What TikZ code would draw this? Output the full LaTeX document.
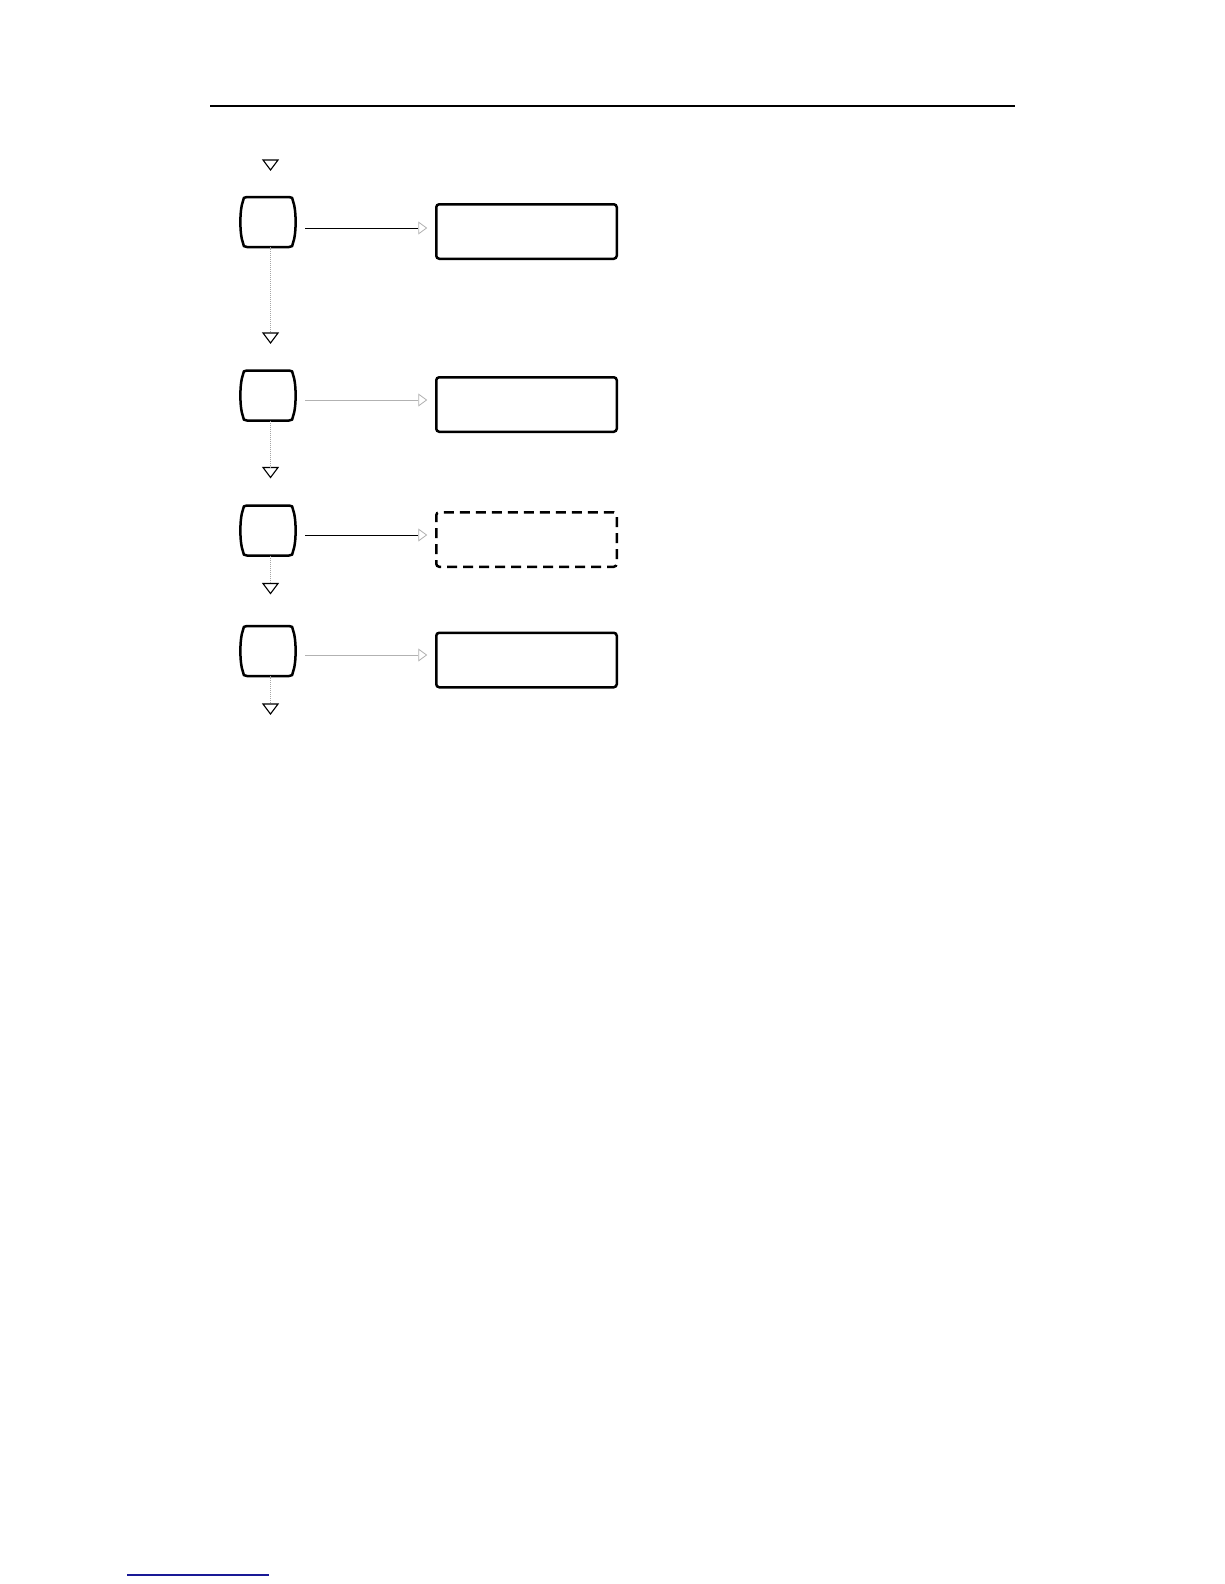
\documentclass[tikz,border=0pt]{standalone}
\usetikzlibrary{calc,arrows.meta}
\begin{document}
\begin{tikzpicture}[x=1pt,y=-1pt,
  smallbox/.style={draw=none, minimum width=50pt, minimum height=50pt, inner sep=0pt, outer sep=0pt},
  bigbox/.style={draw, line width=2.5pt, rounded corners=3pt, minimum width=180.5pt, minimum height=54.5pt, inner sep=0pt, outer sep=0pt},
  dashedbox/.style={bigbox, dash pattern=on 10pt off 6pt},
  barrelline/.style={line width=2.5pt, line join=round},
  dotline/.style={gray!70, line width=0.9pt, dash pattern=on 1pt off 1pt},
  tri/.style={line width=1.1pt, line join=miter},
  conn/.style={line width=0.9pt, -{Triangle[open,length=9pt,width=13pt,line width=0.8pt,color=gray!60]}, shorten <=12pt, shorten >=9pt},
  darkconn/.style={conn, black},
  lightconn/.style={conn, gray!60}
]
\useasboundingbox (0,0) rectangle (1224,1584);
\fill[white] (0,0) rectangle (1224,1584);

% header rule and footer link line
\coordinate (hl) at (210,106);
\coordinate (hr) at (1015,106);
\draw[line width=2pt] (hl) -- (hr);
\coordinate (fl) at (127,1575);
\coordinate (fr) at (269,1575);
\draw[line width=1.5pt, color={rgb,255:red,25;green,25;blue,150}] (fl) -- (fr);

% small barrel boxes
\node[smallbox] (s1) at (268,222) {};
\node[smallbox] (s2) at (268,395.5) {};
\node[smallbox] (s3) at (268,530.5) {};
\node[smallbox] (s4) at (268,651) {};

\foreach \s in {s1,s2,s3,s4}{
  \draw[barrelline]
    ($(\s.north west)+(4,0)$) -- ($(\s.north east)+(-4,0)$)
    .. controls ($(\s.north east)+(-1,0)$) and ($(\s.north east)+(0,1)$) .. ($(\s.north east)+(0,4)$)
    .. controls ($(\s.east)+(3.5,-12)$) and ($(\s.east)+(3.5,12)$) .. ($(\s.south east)+(0,-4)$)
    .. controls ($(\s.south east)+(0,-1)$) and ($(\s.south east)+(-1,0)$) .. ($(\s.south east)+(-4,0)$)
    -- ($(\s.south west)+(4,0)$)
    .. controls ($(\s.south west)+(1,0)$) and ($(\s.south west)+(0,-1)$) .. ($(\s.south west)+(0,-4)$)
    .. controls ($(\s.west)+(-3.5,12)$) and ($(\s.west)+(-3.5,-12)$) .. ($(\s.north west)+(0,4)$)
    .. controls ($(\s.north west)+(0,1)$) and ($(\s.north west)+(1,0)$) .. ($(\s.north west)+(4,0)$)
    -- cycle;
}

% big boxes
\node[bigbox] (b1) at (526.5,231.5) {};
\node[bigbox] (b2) at (526.5,404.5) {};
\node[dashedbox] (b3) at (526.5,539.5) {};
\node[bigbox] (b4) at (526.5,660) {};

% down triangles
\coordinate (t0) at (270.5,165);
\coordinate (t1) at (270.5,338);
\coordinate (t2) at (270.5,472.5);
\coordinate (t3) at (270.5,588.5);
\coordinate (t4) at (270.5,709);
\foreach \t in {t0,t1,t2,t3,t4}{
  \draw[tri] ($(\t)+(-7.5,-5)$) -- ($(\t)+(7.5,-5)$) -- ($(\t)+(0,5)$) -- cycle;
}

% dotted vertical connectors
\draw[dotline] (s1.south -| t1) -- ($(t1)+(0,-5)$);
\draw[dotline] (s2.south -| t2) -- ($(t2)+(0,-5)$);
\draw[dotline] (s3.south -| t3) -- ($(t3)+(0,-5)$);
\draw[dotline] (s4.south -| t4) -- ($(t4)+(0,-5)$);

% horizontal arrows
\coordinate (a1) at (305,228);
\coordinate (a2) at (305,400);
\coordinate (a3) at (305,535);
\coordinate (a4) at (305,655);
\draw[darkconn] (s1.east |- a1) -- (b1.west |- a1);
\draw[lightconn] (s2.east |- a2) -- (b2.west |- a2);
\draw[darkconn] (s3.east |- a3) -- (b3.west |- a3);
\draw[lightconn] (s4.east |- a4) -- (b4.west |- a4);
\end{tikzpicture}
\end{document}
